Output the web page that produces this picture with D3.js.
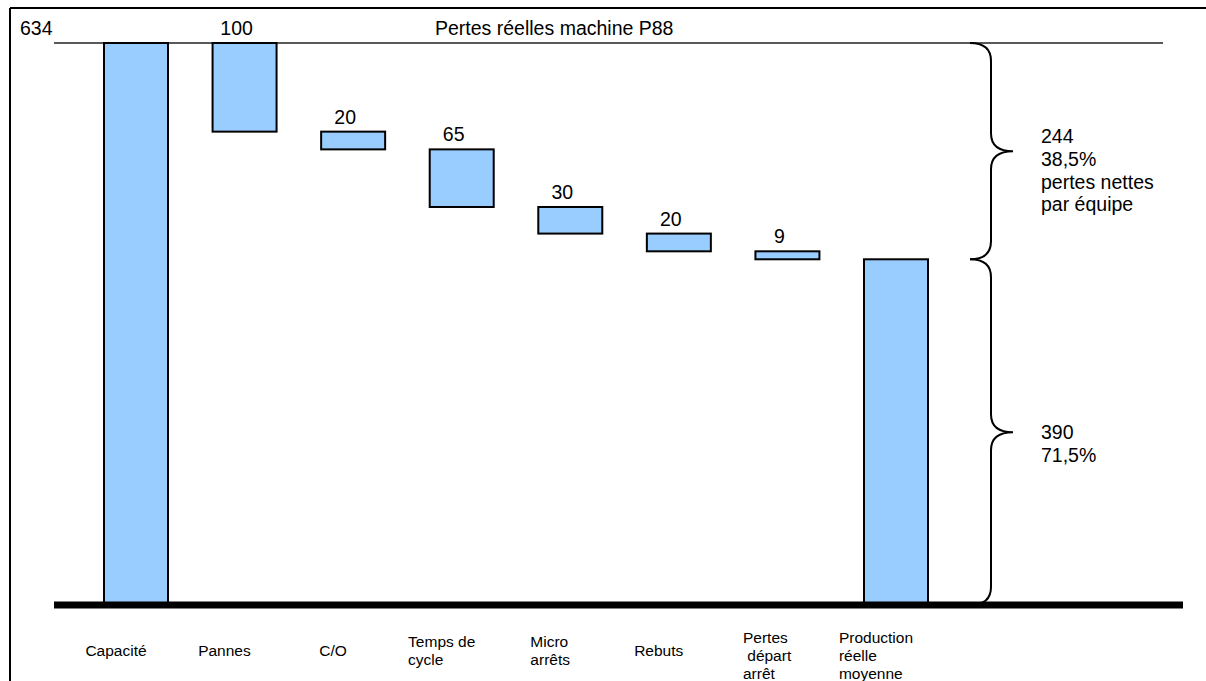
<!DOCTYPE html>
<html>
<head>
<meta charset="utf-8">
<script src="https://cdn.jsdelivr.net/npm/d3@7"></script>
<style>
  body { margin: 0; background: #fff; }
  svg { display: block; font-family: "Liberation Sans", Arial, sans-serif; }
</style>
</head>
<body>
<div id="chart"></div>
<script>
const width = 1206;
const height = 681;

// data
const title = "Pertes réelles machine P88";
const categories = ["Capacité", "Pannes", "C/O", "Temps de cycle", "Micro arrêts", "Rebuts", "Pertes départ arrêt", "Production réelle moyenne"];
const categoryLines = [["Capacité"], ["Pannes"], ["C/O"], ["Temps de", "cycle"], ["Micro", "arrêts"], ["Rebuts"], ["Pertes", " départ", "arrêt"], ["Production", "réelle", "moyenne"]];
const values = [634, 100, 20, 65, 30, 20, 9, 390];
const kinds = ["total", "loss", "loss", "loss", "loss", "loss", "loss", "total"];
const braceRanges = [[390, 634], [0, 390]];
const braceTexts = [["244", "38,5%", "pertes nettes", "par équipe"], ["390", "71,5%"]];

const svg = d3.select("#chart")
  .append("svg")
  .attr("width", width)
  .attr("height", height);

const y = d3.scaleLinear()
  .domain([0, 634])
  .range([605, 43]);

const x = d3.scaleBand()
  .domain(categories)
  .range([104, 928])
  .paddingInner(1 - 64 / 108.57)
  .paddingOuter(0);

// waterfall extents
let running = 0;
const bars = values.map((v, i) => {
  let lo, hi;
  if (kinds[i] === "total") { lo = 0; hi = v; running = v; }
  else { hi = running; lo = running - v; running = lo; }
  return { cat: categories[i], value: v, lo: lo, hi: hi, i: i };
});

// frame (only top and left edges show)
svg.append("line").attr("x1", 10).attr("x2", width).attr("y1", 8).attr("y2", 8)
  .attr("stroke", "#000").attr("stroke-width", 2);
svg.append("line").attr("x1", 10).attr("x2", 10).attr("y1", 8).attr("y2", height)
  .attr("stroke", "#000").attr("stroke-width", 2);

// top reference line
svg.append("line")
  .attr("x1", 54).attr("x2", 1163)
  .attr("y1", y(634)).attr("y2", y(634))
  .attr("stroke", "#222").attr("stroke-width", 1.5);

svg.append("text")
  .attr("x", 435).attr("y", 35)
  .attr("font-size", "19.5px")
  .text(title);

// bars
svg.append("g")
  .selectAll("rect")
  .data(bars)
  .enter()
  .append("rect")
  .attr("x", d => x(d.cat))
  .attr("width", x.bandwidth())
  .attr("y", d => y(d.hi))
  .attr("height", d => y(d.lo) - y(d.hi))
  .attr("fill", "#99ccff")
  .attr("stroke", "#000")
  .attr("stroke-width", 2);

// value labels
svg.append("g")
  .selectAll("text")
  .data(bars.filter(d => d.i < 7))
  .enter()
  .append("text")
  .attr("x", d => d.i === 0 ? 20 : x(d.cat) + x.bandwidth() / 2 - 8)
  .attr("y", d => y(d.hi) - 8)
  .attr("text-anchor", d => d.i === 0 ? "start" : "middle")
  .attr("font-size", "19.5px")
  .text(d => d.value);

// baseline
svg.append("line")
  .attr("x1", 54).attr("x2", 1183)
  .attr("y1", y(0)).attr("y2", y(0))
  .attr("stroke", "#000").attr("stroke-width", 7);

// category labels, left aligned blocks
const catG = svg.append("g");
categoryLines.forEach((lines, i) => {
  const n = lines.length;
  const firstCenter = n === 3 ? 637 : 650 - (n - 1) * 9;
  const t = catG.append("text")
    .attr("font-size", "15.5px")
    .attr("x", 0);
  lines.forEach((ln, k) => {
    t.append("tspan")
      .attr("x", 0)
      .attr("y", firstCenter + k * 18 + 5.5)
      .attr("xml:space", "preserve")
      .style("white-space", "pre")
      .text(ln);
  });
  const w = t.node().getBBox().width;
  const cx = x(categories[i]) + x.bandwidth() / 2 - 20;
  t.attr("transform", `translate(${cx - w / 2},0)`);
});

// braces on the right
function bracePath(y0, y1) {
  const xa = 970, xv = 991, xt = 1013, r = 18;
  const m = (y0 + y1) / 2;
  return `M${xa},${y0} Q${xv},${y0} ${xv},${y0 + r}` +
    ` L${xv},${m - r} Q${xv},${m} ${xt},${m}` +
    ` Q${xv},${m} ${xv},${m + r}` +
    ` L${xv},${y1 - r} Q${xv},${y1} ${xa},${y1}`;
}

braceRanges.forEach((rg, i) => {
  const top = y(rg[1]), bot = y(rg[0]);
  svg.append("path")
    .attr("d", bracePath(top, bot))
    .attr("fill", "none")
    .attr("stroke", "#000")
    .attr("stroke-width", 2);
  const mid = (top + bot) / 2;
  const first = i === 0 ? mid - 8 : mid + 7;
  const t = svg.append("text").attr("font-size", "19.5px");
  braceTexts[i].forEach((ln, k) => {
    t.append("tspan")
      .attr("x", 1041)
      .attr("y", first + k * 22.7)
      .text(ln);
  });
});
</script>
</body>
</html>
